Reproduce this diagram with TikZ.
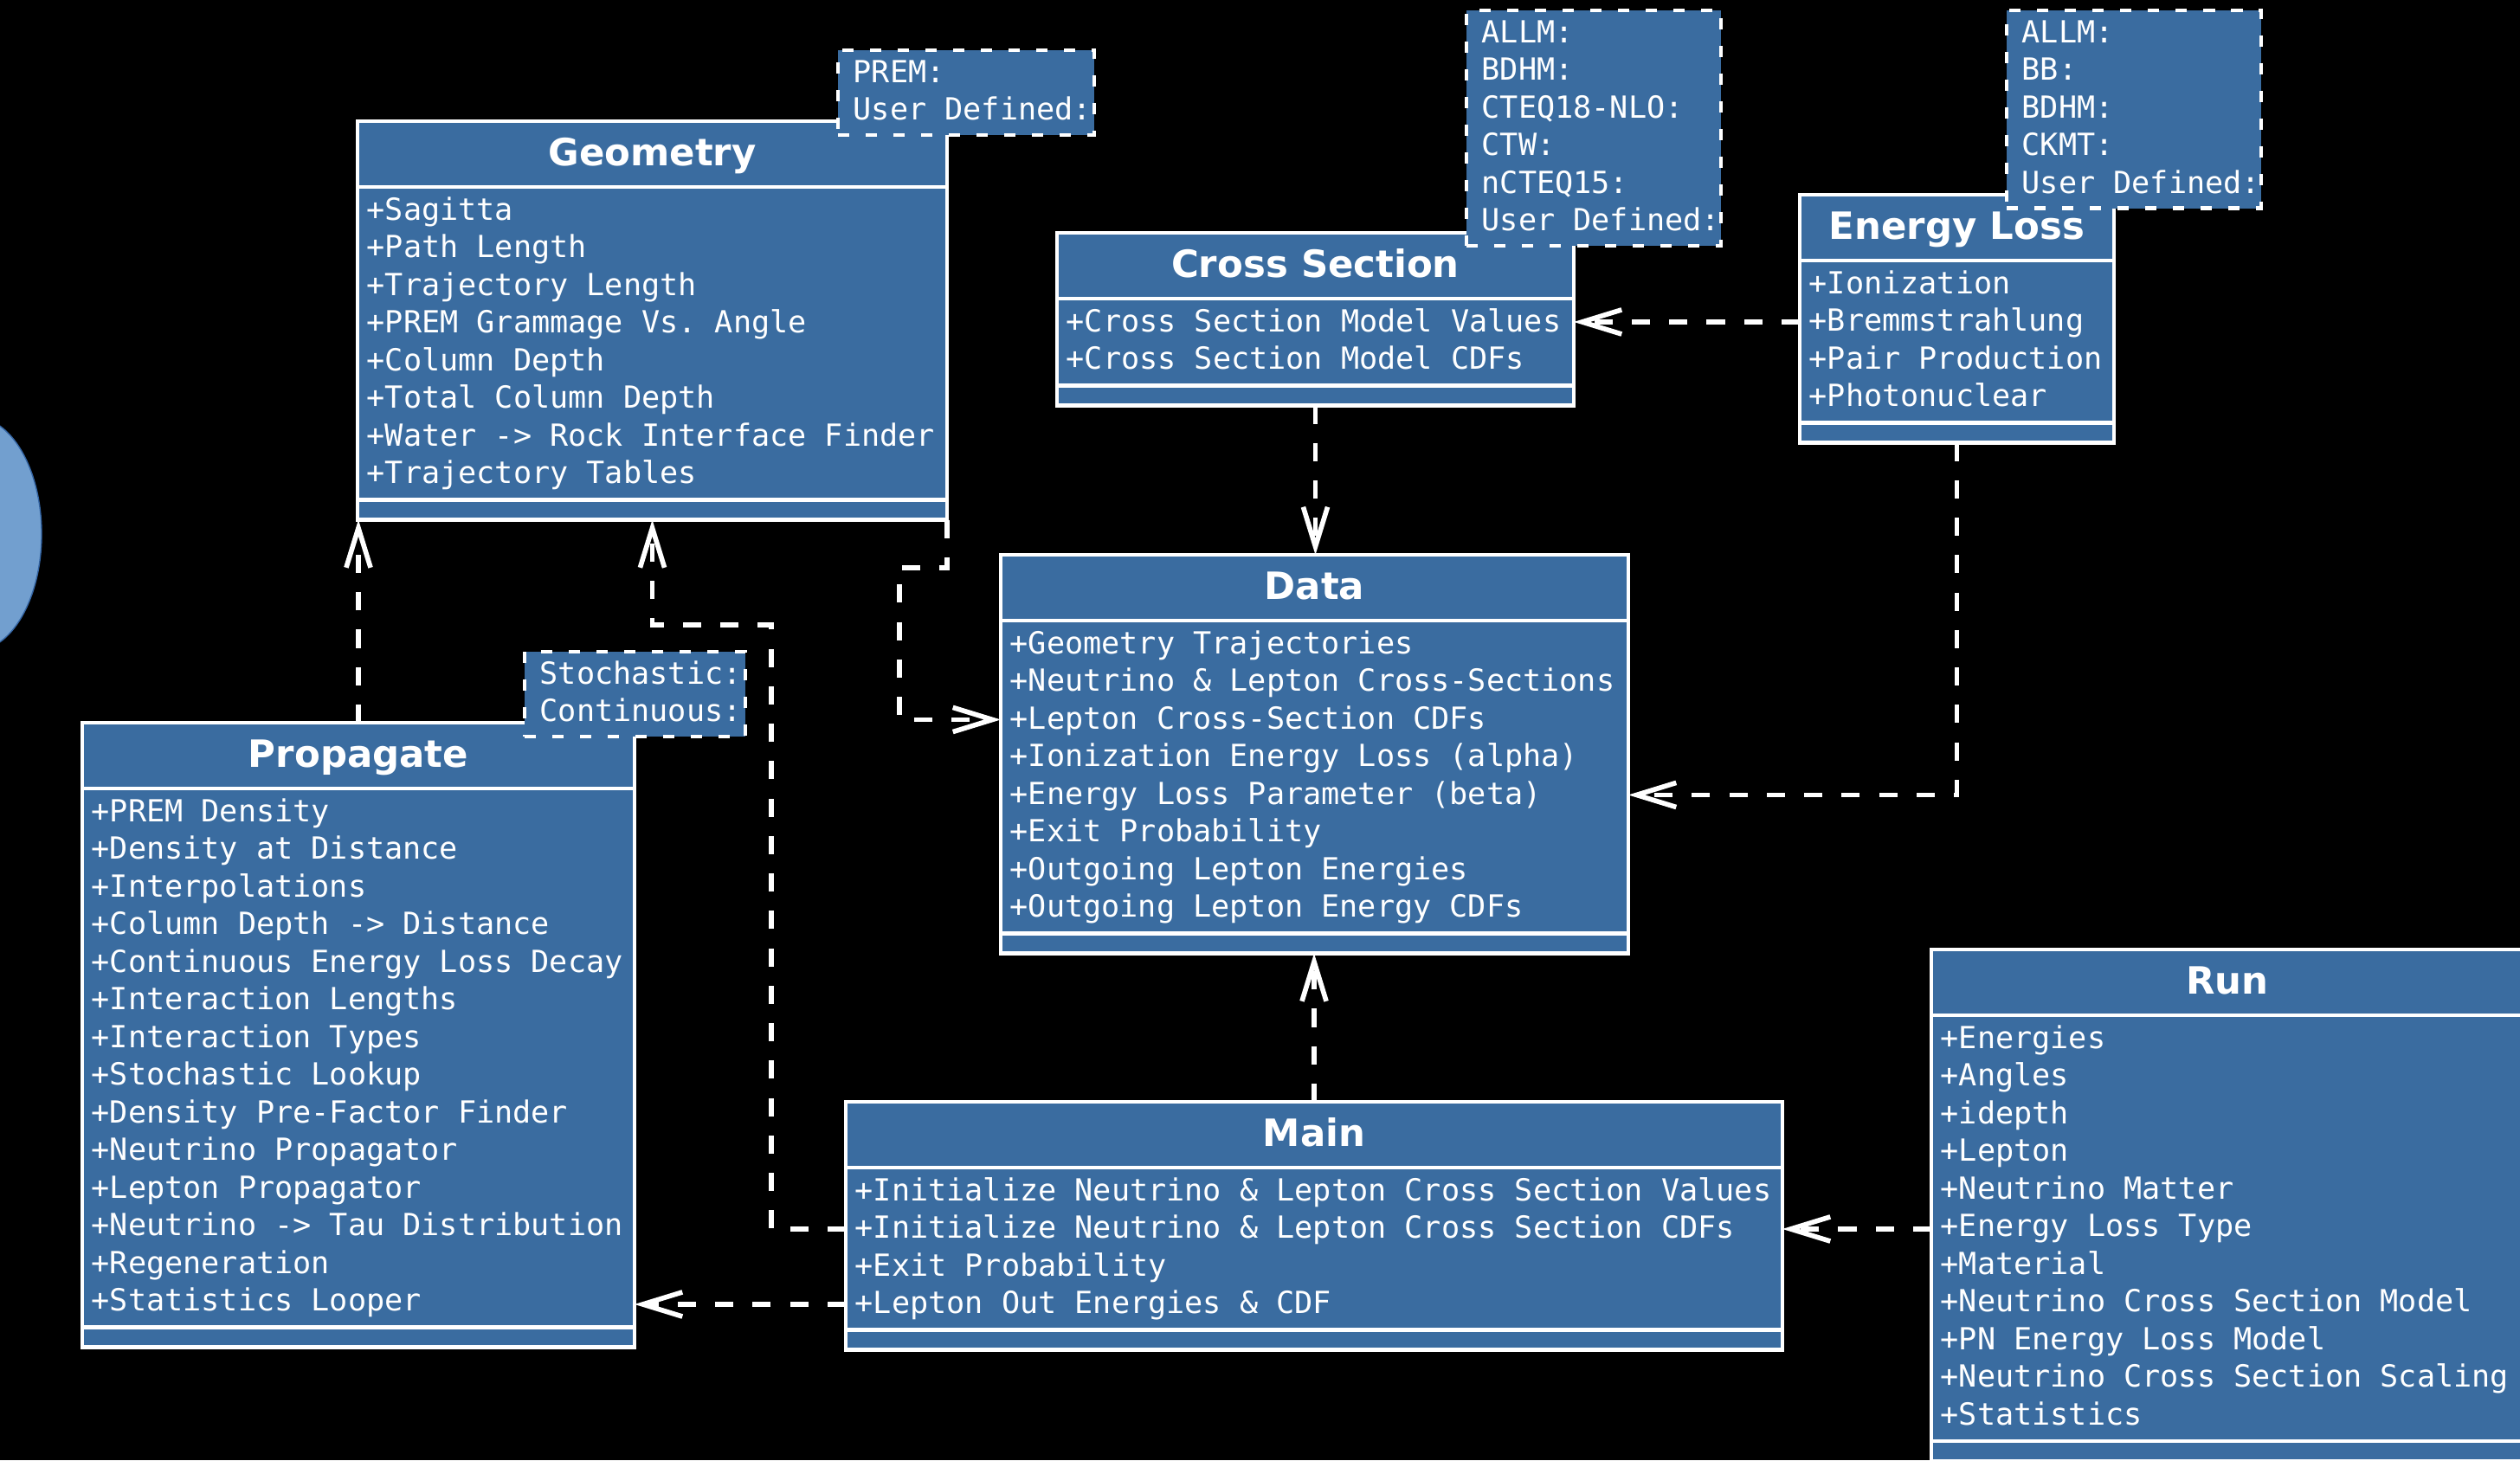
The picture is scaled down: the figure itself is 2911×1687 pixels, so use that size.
\documentclass[tikz,border=0pt]{standalone}
\usepackage{fontspec}
\setmainfont{DejaVu Sans}
\setmonofont{DejaVu Sans Mono}
\usepackage{tikz}
\usetikzlibrary{arrows.meta}

\begin{document}
\begin{tikzpicture}[x=0.01cm, y=-0.01cm]  %1 unit = 1 px of the sheet, y runs down
    \definecolor{umlblue}{RGB}{58,108,160};    %class fill
    \definecolor{blobfill}{RGB}{114,159,207};  %light blue blob at the left
    \definecolor{blobedge}{RGB}{52,101,164};
    \useasboundingbox (0,0) rectangle (2911,1687);
    \clip (0,0) rectangle (2911,1687);
    \fill[black] (0,0) rectangle (2911,1687);  %background

    \tikzstyle{classbox} = [rectangle, draw=white, fill=umlblue, line width=1.4pt, anchor=north west, inner sep=0pt, outer sep=0pt]
    \tikzstyle{notebox} = [classbox, dash pattern=on 3.8pt off 5.3pt]
    \tikzstyle{sepline} = [draw=white, line width=1.4pt]
    \tikzstyle{titletext} = [text=white, font=\bfseries\fontsize{12.35}{14}\selectfont, anchor=base, inner sep=0pt]
    \tikzstyle{attrtext} = [text=white, font=\ttfamily\fontsize{10}{12}\selectfont, anchor=base west, inner sep=0pt, text height=9pt, text depth=3pt]
    \tikzstyle{dep} = [draw=white, line width=1.6pt, dash pattern=on 6pt off 6.3pt, -{Straight Barb[length=13pt,width=8pt,sharp]}]

    %class box: name, x, top, width, rows, title, rows text
    \def\umlclass#1#2#3#4#5#6#7{%
      \pgfmathsetmacro\bh{112.5+43.5*#5}
      \node[classbox, minimum width=#4*0.01cm, minimum height=\bh*0.01cm] (#1) at (#2,#3) {};
      \draw[sepline] (#2,#3+76) -- ++(#4,0);          %title line
      \draw[sepline] (#2,#3+\bh-23) -- ++(#4,0);      %empty operations part
      \node[titletext] (#1-t) at (#2+#4/2,#3+51) {#6};
      \foreach \txt [count=\i] in {#7}
        \node[attrtext] (#1-\i) at (#2+10,#3+70.5+43.5*\i) {\txt};
    }
    %note box: name, x, top, width, rows, rows text
    \def\umlnote#1#2#3#4#5#6{%
      \node[notebox, minimum width=#4*0.01cm, minimum height={(11+43.5*#5)*0.01cm}] (#1) at (#2,#3) {};
      \foreach \txt [count=\i] in {#6}
        \node[attrtext] (#1-\i) at (#2+17,#3-6.5+43.5*\i) {\txt};
    }

    \fill[blobfill, draw=blobedge, line width=0.4pt] (-30,617) ellipse [x radius=0.78cm, y radius=1.35cm];

    \umlclass{geom}{413}{140}{681}{8}{Geometry}{+Sagitta, +Path Length, +Trajectory Length, +PREM Grammage Vs. Angle, +Column Depth, +Total Column Depth, +Water -> Rock Interface Finder, +Trajectory Tables}
    \umlclass{cross}{1221}{269}{597}{2}{Cross Section}{+Cross Section Model Values, +Cross Section Model CDFs}
    \umlclass{eloss}{2079}{225}{363}{4}{Energy Loss}{+Ionization, +Bremmstrahlung, +Pair Production, +Photonuclear}
    \umlclass{data}{1156}{641}{725}{8}{Data}{+Geometry Trajectories, +Neutrino \& Lepton Cross-Sections, +Lepton Cross-Section CDFs, +Ionization Energy Loss (alpha), +Energy Loss Parameter (beta), +Exit Probability, +Outgoing Lepton Energies, +Outgoing Lepton Energy CDFs}
    \umlclass{prop}{95}{835}{638}{14}{Propagate}{+PREM Density, +Density at Distance, +Interpolations, +Column Depth -> Distance, +Continuous Energy Loss Decay, +Interaction Lengths, +Interaction Types, +Stochastic Lookup, +Density Pre-Factor Finder, +Neutrino Propagator, +Lepton Propagator, +Neutrino -> Tau Distribution, +Regeneration, +Statistics Looper}
    \umlclass{main}{977}{1273}{1082}{4}{Main}{+Initialize Neutrino \& Lepton Cross Section Values, +Initialize Neutrino \& Lepton Cross Section CDFs, +Exit Probability, +Lepton Out Energies \& CDF}
    \umlclass{run}{2231}{1097}{684}{11}{Run}{+Energies, +Angles, +idepth, +Lepton, +Neutrino Matter, +Energy Loss Type, +Material, +Neutrino Cross Section Model, +PN Energy Loss Model, +Neutrino Cross Section Scaling, +Statistics}

    %model notes
    \umlnote{earthnote}{968}{58}{296}{2}{PREM:, User Defined:}
    \umlnote{xsnote}{1694}{12}{294}{6}{ALLM:, BDHM:, CTEQ18-NLO:, CTW:, nCTEQ15:, User Defined:}
    \umlnote{elnote}{2318}{12}{294}{5}{ALLM:, BB:, BDHM:, CKMT:, User Defined:}
    \umlnote{modenote}{606}{753}{255}{2}{Stochastic:, Continuous:}

    %dependencies
    \coordinate (g2d) at (1039,656);
    \coordinate (m2g) at (891,722);
    \draw[dep] (prop.north) -- (prop.north |- geom.south);
    \draw[dep] (main.west |- main-2) -| (m2g) -| (geom.south);
    \draw[dep] (geom.south east) |- (g2d) |- (data.west |- data-3);
    \draw[dep] (cross.south) -- (cross.south |- data.north);
    \draw[dep] (eloss.west |- eloss-2) -- (cross.east |- eloss-2);
    \draw[dep] (eloss.south) |- (data.east |- data-5);
    \draw[dep] (main.north) -- (main.north |- data.south);
    \draw[dep] (run.west |- main-2) -- (main.east |- main-2);
    \draw[dep] (main.west |- main-4) -- (prop.east |- main-4);
\end{tikzpicture}
\end{document}
